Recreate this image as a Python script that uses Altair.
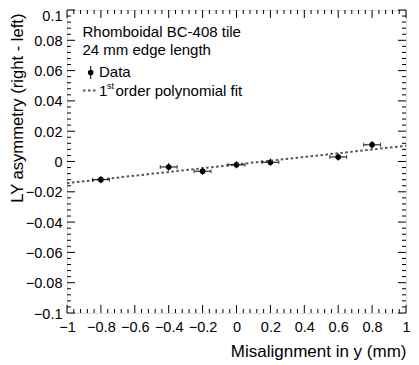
import altair as alt
import pandas as pd

# ---- data ----
x_vals = [-0.8, -0.4, -0.2, 0.0, 0.2, 0.6, 0.8]
y_vals = [-0.0120, -0.0036, -0.0064, -0.0022, -0.0005, 0.0030, 0.0110]
x_err = [0.05, 0.05, 0.05, 0.05, 0.05, 0.05, 0.05]
y_err = [0.0024, 0.0025, 0.0024, 0.0023, 0.0024, 0.0024, 0.0025]

fit_x = [-1.0, 1.0]
fit_y = [-0.0143, 0.0104]

x_major = [-1, -0.8, -0.6, -0.4, -0.2, 0, 0.2, 0.4, 0.6, 0.8, 1]
y_major = [-0.1, -0.08, -0.06, -0.04, -0.02, 0, 0.02, 0.04, 0.06, 0.08, 0.1]
x_minor = [round(-1 + 0.04 * i, 4) for i in range(51) if i % 5 != 0]
y_minor = [round(-0.1 + 0.004 * i, 4) for i in range(51) if i % 5 != 0]

W, H = 339, 303
FONT = "Liberation Sans"

df = pd.DataFrame({
    "x": x_vals, "y": y_vals,
    "xlo": [a - b for a, b in zip(x_vals, x_err)],
    "xhi": [a + b for a, b in zip(x_vals, x_err)],
    "ylo": [a - b for a, b in zip(y_vals, y_err)],
    "yhi": [a + b for a, b in zip(y_vals, y_err)],
})
fit_df = pd.DataFrame({"x": fit_x, "y": fit_y})

xs = alt.Scale(domain=[-1, 1], nice=False, zero=False)
ys = alt.Scale(domain=[-0.1, 0.1], nice=False, zero=False)

x_axis = alt.Axis(
    values=x_major, format="~g", ticks=False, domain=False, grid=False,
    labelFont=FONT, labelFontSize=14.5, labelColor="black", labelPadding=7,
    labelFlush=False, labelOverlap=False,
    title="Misalignment in y (mm)", titleFont=FONT, titleFontSize=17,
    titleFontWeight="normal", titleColor="black",
    titleX=W, titleY=43, titleAlign="right", titleBaseline="alphabetic",
)
y_axis = alt.Axis(
    values=y_major, format="~g", ticks=False, domain=False, grid=False,
    labelFont=FONT, labelFontSize=14.5, labelColor="black", labelPadding=5,
    labelOverlap=False, labelFlush=False,
    labelBaseline={"condition": {"test": "datum.value > 0.099", "value": "top"},
                   "value": "middle"},
    labelOffset={"condition": {"test": "datum.value > 0.099", "value": -1},
                 "value": 1},
    title="LY asymmetry (right - left)", titleFont=FONT, titleFontSize=16.6,
    titleFontWeight="normal", titleColor="black",
    titleX=-45, titleY=3, titleAngle=-90, titleAlign="right",
    titleBaseline="alphabetic",
)

def X(f):
    return alt.X(f, scale=xs, axis=x_axis)

def Y(f):
    return alt.Y(f, scale=ys, axis=y_axis)

def xticks(vals, L):
    d = pd.DataFrame({"v": vals})
    bot = alt.Chart(d).mark_rule(color="black", strokeWidth=1).encode(
        x=X("v:Q"), y=alt.value(H), y2=alt.value(H - L))
    top = alt.Chart(d).mark_rule(color="black", strokeWidth=1).encode(
        x=X("v:Q"), y=alt.value(0), y2=alt.value(L))
    return [bot, top]

def yticks(vals, L):
    d = pd.DataFrame({"v": vals})
    lft = alt.Chart(d).mark_rule(color="black", strokeWidth=1).encode(
        y=Y("v:Q"), x=alt.value(0), x2=alt.value(L))
    rgt = alt.Chart(d).mark_rule(color="black", strokeWidth=1).encode(
        y=Y("v:Q"), x=alt.value(W), x2=alt.value(W - L))
    return [lft, rgt]

tick_layers = xticks(x_major, 8) + xticks(x_minor, 4) + yticks(y_major, 8) + yticks(y_minor, 4)

fit = alt.Chart(fit_df).mark_line(color="#555555", strokeWidth=2, strokeDash=[2.5, 2.5]).encode(
    x=X("x:Q"), y=Y("y:Q"))

base = alt.Chart(df)
xerr = base.mark_rule(color="black", strokeWidth=1).encode(
    x=X("xlo:Q"), x2="xhi:Q", y=Y("y:Q"))
yerr = base.mark_rule(color="black", strokeWidth=1).encode(
    x=X("x:Q"), y=Y("ylo:Q"), y2="yhi:Q")
cap_lo = base.mark_tick(color="black", orient="vertical", size=4, thickness=1).encode(
    x=X("xlo:Q"), y=Y("y:Q"))
cap_hi = base.mark_tick(color="black", orient="vertical", size=4, thickness=1).encode(
    x=X("xhi:Q"), y=Y("y:Q"))
pts = base.mark_point(filled=True, color="black", opacity=1, size=32, shape="circle").encode(
    x=X("x:Q"), y=Y("y:Q"))

# ---- legend / annotation ----
one = pd.DataFrame({"a": [0]})
def txt(s, x, y, size=15):
    return alt.Chart(one).mark_text(text=s, font=FONT, fontSize=size, align="left",
                                    baseline="alphabetic", color="black").encode(
        x=alt.value(x), y=alt.value(y))

leg = [
    txt("Rhomboidal BC-408 tile", 15.5, 26.7),
    txt("24 mm edge length", 15.5, 44.5),
    txt("Data", 32, 67.3),
    txt("1", 32, 86),
    txt("st", 40, 79, 9),
    txt("order polynomial fit", 48.5, 86),
    alt.Chart(one).mark_rule(color="black", strokeWidth=1).encode(
        x=alt.value(23.7), y=alt.value(56), y2=alt.value(69)),
    alt.Chart(one).mark_point(filled=True, color="black", opacity=1, size=32, shape="circle").encode(
        x=alt.value(23.7), y=alt.value(62.5)),
    alt.Chart(one).mark_rule(color="#555555", strokeWidth=2, strokeDash=[2.5, 2.5]).encode(
        x=alt.value(16), x2=alt.value(30), y=alt.value(80.5)),
]

chart = alt.layer(pts, *tick_layers, fit, xerr, yerr, cap_lo, cap_hi, *leg).properties(
    width=W, height=H,
    autosize=alt.AutoSizeParams(type="none"),
    padding={"left": 59, "top": 2, "right": 5, "bottom": 50},
).configure_view(stroke="black", strokeWidth=1).configure(background="white")

chart.save("out.html", embed_options={"renderer": "svg", "actions": False})
